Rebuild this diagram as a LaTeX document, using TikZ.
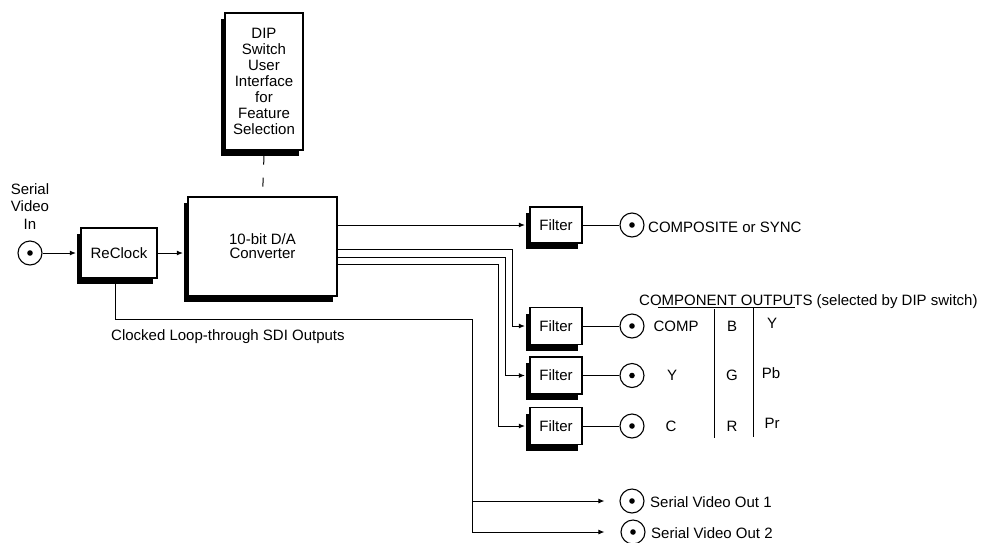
\documentclass[tikz,border=0pt]{standalone}
\usepackage{fontspec}
\setmainfont{Liberation Sans}
\usetikzlibrary{shadows,arrows.meta}
\begin{document}
\begin{tikzpicture}[x=1pt,y=-1pt,
  every node/.style={font=\fontsize{15}{16}\selectfont, inner sep=0pt},
  blk/.style={draw, line width=1.2pt, fill=white,
    drop shadow={shadow xshift=-4.5pt, shadow yshift=-6pt, fill=black, opacity=1}},
  conn/.style={draw, circle, line width=1.1pt, minimum size=24pt, fill=white,
    path picture={\fill[black] (path picture bounding box.center) circle (2.8pt);}},
  ln/.style={line width=1pt},
  arr/.style={ln, -{Latex[length=6pt,width=5pt]}},
  lbl/.style={anchor=base west},
  cell/.style={anchor=base},
]
\useasboundingbox (0,0) rectangle (986,542);

% blocks
\node[blk, minimum width=78pt, minimum height=137pt, align=center] (dip) at (264,81.5)
  {DIP\\Switch\\User\\Interface\\for\\Feature\\Selection};
\node[blk, minimum width=76pt, minimum height=50pt] (rc) at (119,253) {ReClock};
\node[blk, minimum width=149pt, minimum height=99pt, align=center,
  font=\fontsize{15}{14}\selectfont] (da) at (262.5,246.5) {10-bit D/A\\Converter};
\node[blk, minimum width=52pt, minimum height=36pt] (f1) at (556,225) {Filter};
\node[blk, minimum width=52pt, minimum height=37pt] (f2) at (556,326) {Filter};
\node[blk, minimum width=52pt, minimum height=37pt] (f3) at (556,375.5) {Filter};
\node[blk, minimum width=52pt, minimum height=37pt] (f4) at (556,426) {Filter};

% connectors (circles)
\node[conn] (cin) at (30,253) {};
\node[conn] (o1) at (632,225) {};
\node[conn] (o2) at (632,326) {};
\node[conn] (o3) at (632,375.5) {};
\node[conn] (o4) at (632,426) {};
\node[conn] (s1) at (632,501) {};
\node[conn] (s2) at (633,532) {};

% texts
\node[align=center, anchor=north, font=\fontsize{15}{17.7}\selectfont] (tin) at (30,183) {Serial\\Video\\In};
\node[lbl] (tcs) at (648,232) {COMPOSITE or SYNC};
\node[lbl] (tclk) at (111,340) {Clocked Loop-through SDI Outputs};
\node[lbl] (tco) at (639,305) {COMPONENT OUTPUTS (selected by DIP switch)};
\node[lbl] (ts1) at (650,507) {Serial Video Out 1};
\node[lbl] (ts2) at (651,538) {Serial Video Out 2};

% component table
\draw[ln] (658,307) -- (795,307);
\draw[ln] (714,309) -- (714,438);
\draw[ln] (753,307) -- (753,437);
\node[cell] (c11) at (676,331) {COMP};
\node[cell] (c12) at (732,331) {B};
\node[cell] (c13) at (772,328) {Y};
\node[cell] (c21) at (672,380) {Y};
\node[cell] (c22) at (732,380) {G};
\node[cell] (c23) at (771,378) {Pb};
\node[cell] (c31) at (671,431) {C};
\node[cell] (c32) at (732,431) {R};
\node[cell] (c33) at (772,428) {Pr};

% dashed link DIP -> D/A
\draw[ln, dash pattern=on 9pt off 13pt] ([yshift=-5pt]dip.south) -- (da.north);

% signal flow
\draw[arr] (cin.east) -- ([xshift=-4.5pt]rc.west |- cin.east);
\draw[arr] (rc.east) -- ([xshift=-4.5pt]da.west |- rc.east);
\draw[arr] (da.east |- f1) -- ([xshift=-4.5pt]f1.west);

\coordinate (k2) at (512,249);
\coordinate (k3) at (505,257);
\coordinate (k4) at (498,264);
\draw[arr] (da.east |- k2) -- (k2) |- ([xshift=-4.5pt]f2.west);
\draw[arr] (da.east |- k3) -- (k3) |- ([xshift=-4.5pt]f3.west);
\draw[arr] (da.east |- k4) -- (k4) |- ([xshift=-4.5pt]f4.west);

\draw[ln] (f1.east) -- (o1.west);
\draw[ln] (f2.east) -- (o2.west);
\draw[ln] (f3.east) -- (o3.west);
\draw[ln] (f4.east) -- (o4.west);

% loop-through outputs
\coordinate (lp) at (472,319);
\draw[arr] ([xshift=-4pt]rc.south) |- (lp) |- ([xshift=-16pt]s2.west);
\draw[arr] (lp |- s1) -- ([xshift=-15pt]s1.west);
\end{tikzpicture}
\end{document}
